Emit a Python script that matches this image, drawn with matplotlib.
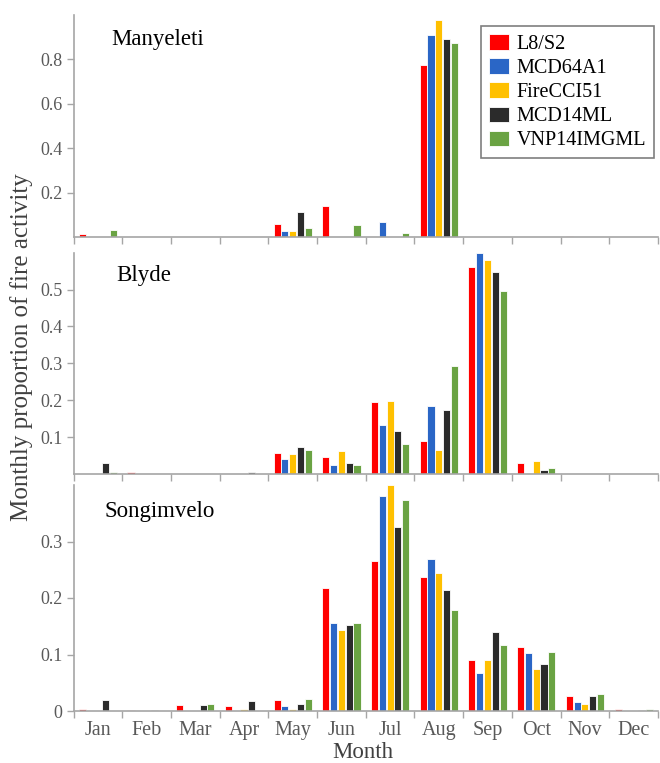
import matplotlib
matplotlib.use("Agg")
import matplotlib.pyplot as plt
import numpy as np

months = ["Jan", "Feb", "Mar", "Apr", "May", "Jun", "Jul", "Aug", "Sep", "Oct", "Nov", "Dec"]
series_names = ["L8/S2", "MCD64A1", "FireCCI51", "MCD14ML", "VNP14IMGML"]
colors = ["#FF0000", "#2A66C6", "#FFC000", "#2B2B2B", "#6AA343"]

# Manyeleti
manyeleti_l8s2 = [0.015, 0, 0, 0, 0.060, 0.140, 0, 0.776, 0, 0, 0.005, 0]
manyeleti_mcd64a1 = [0, 0, 0, 0, 0.026, 0, 0.068, 0.908, 0, 0, 0, 0]
manyeleti_firecci51 = [0, 0, 0, 0, 0.026, 0, 0, 0.978, 0, 0, 0, 0]
manyeleti_mcd14ml = [0, 0, 0, 0, 0.111, 0, 0, 0.890, 0, 0, 0, 0]
manyeleti_vnp14imgml = [0.030, 0, 0, 0, 0.042, 0.056, 0.017, 0.872, 0, 0, 0, 0]

# Blyde
blyde_l8s2 = [0, 0.005, 0, 0, 0.058, 0.047, 0.196, 0.089, 0.562, 0.030, 0, 0]
blyde_mcd64a1 = [0, 0, 0, 0, 0.040, 0.023, 0.132, 0.185, 0.600, 0, 0, 0]
blyde_firecci51 = [0, 0, 0, 0, 0.054, 0.063, 0.198, 0.065, 0.581, 0.035, 0, 0]
blyde_mcd14ml = [0.030, 0, 0, 0.006, 0.073, 0.030, 0.117, 0.174, 0.549, 0.010, 0, 0]
blyde_vnp14imgml = [0.005, 0, 0, 0, 0.065, 0.025, 0.082, 0.292, 0.497, 0.016, 0, 0]

# Songimvelo
songimvelo_l8s2 = [0.004, 0.002, 0.011, 0.008, 0.020, 0.217, 0.266, 0.237, 0.091, 0.113, 0.027, 0.004]
songimvelo_mcd64a1 = [0, 0, 0, 0, 0.009, 0.155, 0.381, 0.269, 0.068, 0.103, 0.016, 0]
songimvelo_firecci51 = [0, 0, 0, 0.004, 0.004, 0.143, 0.400, 0.245, 0.091, 0.075, 0.012, 0]
songimvelo_mcd14ml = [0.020, 0.002, 0.010, 0.017, 0.013, 0.152, 0.325, 0.214, 0.139, 0.083, 0.026, 0.002]
songimvelo_vnp14imgml = [0, 0, 0.012, 0, 0.021, 0.156, 0.374, 0.178, 0.117, 0.105, 0.030, 0.003]

panels = [
    ("Manyeleti", [manyeleti_l8s2, manyeleti_mcd64a1, manyeleti_firecci51, manyeleti_mcd14ml, manyeleti_vnp14imgml],
     1.0, [0.2, 0.4, 0.6, 0.8], ["0.2", "0.4", "0.6", "0.8"]),
    ("Blyde", [blyde_l8s2, blyde_mcd64a1, blyde_firecci51, blyde_mcd14ml, blyde_vnp14imgml],
     0.6, [0.1, 0.2, 0.3, 0.4, 0.5], ["0.1", "0.2", "0.3", "0.4", "0.5"]),
    ("Songimvelo", [songimvelo_l8s2, songimvelo_mcd64a1, songimvelo_firecci51, songimvelo_mcd14ml, songimvelo_vnp14imgml],
     0.40, [0, 0.1, 0.2, 0.3], ["0", "0.1", "0.2", "0.3"]),
]

plt.rcParams['font.family'] = ['Liberation Serif', 'DejaVu Serif']

W, H = 660, 763
fig = plt.figure(figsize=(W / 100, H / 100), dpi=100)

left_px, right_px = 73.5, 658
rows_px = [(15, 237), (252.7, 473.9), (485, 711)]
title_px = [(111, 39), (116, 276), (105, 511)]

axis_gray = "#A6A6A6"
tick_text = "#595959"
x = np.arange(len(months))
step = 0.16
bw = 0.145

axes = []
for i, ((title, data, ymax, yt, ytl), (ytop, ybot)) in enumerate(zip(panels, rows_px)):
    ax = fig.add_axes([left_px / W, 1 - ybot / H, (right_px - left_px) / W, (ybot - ytop) / H])
    for k, (vals, c) in enumerate(zip(data, colors)):
        ax.bar(x + (k - 2) * step, vals, width=bw, color=c, edgecolor="white", linewidth=0.6,
               label=series_names[k], zorder=2)
    ax.set_xlim(-0.5, 11.5)
    ax.set_ylim(0, ymax)
    for s in ["top", "right"]:
        ax.spines[s].set_visible(False)
    for s in ["left", "bottom"]:
        ax.spines[s].set_color(axis_gray)
        ax.spines[s].set_linewidth(1.2)
    ax.set_yticks(yt)
    ax.set_yticklabels(ytl)
    ax.tick_params(axis="y", direction="out", length=5, width=1.0, color=axis_gray,
                   labelsize=13, labelcolor=tick_text, pad=3)
    ax.set_xticks(np.arange(-0.5, 12.0, 1.0))
    ax.tick_params(axis="x", which="major", direction="out", length=5, width=1.0, color=axis_gray,
                   labelbottom=False)
    if i == 2:
        ax.set_xticks(x, minor=True)
        ax.set_xticklabels(months, minor=True)
        ax.tick_params(axis="x", which="minor", length=0, labelsize=14.5, labelcolor=tick_text, pad=7)
    tx, ty = title_px[i]
    fig.text(tx / W, 1 - ty / H, title, fontsize=16.5, color="black", ha="left", va="center")
    axes.append(ax)

leg = axes[0].legend(loc="upper right", bbox_to_anchor=(0.994, 0.95), fontsize=14.5,
                     frameon=True, fancybox=False, edgecolor="#7F7F7F", framealpha=1,
                     borderaxespad=0, handlelength=1.0, handleheight=0.8, handletextpad=0.4,
                     labelspacing=0.22, borderpad=0.4)
leg.get_frame().set_linewidth(1.2)

fig.text(363 / W, 1 - 752 / H, "Month", fontsize=16.5, color="#404040", ha="center", va="center")
fig.text(22 / W, 1 - 347 / H, "Monthly proportion of fire activity", fontsize=18, color="#404040",
         ha="center", va="center", rotation=90)

fig.savefig("out.png", dpi=100)
